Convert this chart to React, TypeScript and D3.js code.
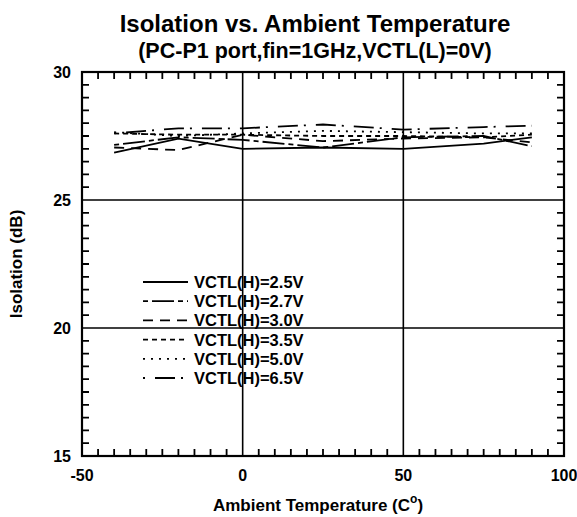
import React from "react";
import * as d3 from "d3";

// temperatures (°C) at which isolation was measured
const temps = [-40, -20, 0, 25, 50, 75, 90];

const series = [
  { name: "VCTL(H)=2.5V", dash: "", values: [26.85, 27.4, 27.0, 27.05, 27.0, 27.2, 27.45] },
  { name: "VCTL(H)=2.7V", dash: "5,4,22,4", values: [27.15, 27.45, 27.35, 27.05, 27.45, 27.5, 27.1] },
  { name: "VCTL(H)=3.0V", dash: "10,7", values: [27.05, 26.95, 27.55, 27.3, 27.4, 27.45, 27.25] },
  { name: "VCTL(H)=3.5V", dash: "5,4", values: [27.6, 27.55, 27.55, 27.5, 27.5, 27.45, 27.55] },
  { name: "VCTL(H)=5.0V", dash: "2,6", values: [27.65, 27.5, 27.6, 27.7, 27.65, 27.6, 27.6] },
  { name: "VCTL(H)=6.5V", dash: "2,10,20,6", values: [27.6, 27.8, 27.8, 27.95, 27.75, 27.85, 27.9] },
];

const xTicks = [-50, 0, 50, 100];
const yTicks = [15, 20, 25, 30];
// minor tick values between the labelled ones
const xMinor = [-45, -40, -35, -30, -25, -20, -15, -10, -5, 5, 10, 15, 20, 25, 30, 35, 40, 45,
  55, 60, 65, 70, 75, 80, 85, 90, 95];
const yMinor = [15.5, 16, 16.5, 17, 17.5, 18, 18.5, 19, 19.5, 20.5, 21, 21.5, 22, 22.5, 23, 23.5,
  24, 24.5, 25.5, 26, 26.5, 27, 27.5, 28, 28.5, 29, 29.5];

const W = 577;
const H = 517;
const m = { left: 82, right: 13, top: 72, bottom: 61 };
const font = "Arial, 'Liberation Sans', sans-serif";

const App = () => {
  const x = d3.scaleLinear().domain([-50, 100]).range([m.left, W - m.right]);
  const y = d3.scaleLinear().domain([15, 30]).range([H - m.bottom, m.top]);
  const line = d3
    .line<number>()
    .x((_, i) => x(temps[i]))
    .y((d) => y(d));

  const [x0, x1] = x.range();
  const [y0, y1] = y.range();
  const tk = 7;

  // inward minor ticks on all four sides
  let tickPath = "";
  xMinor.forEach((t) => {
    const px = x(t);
    tickPath += `M${px},${y0}V${y0 - tk}M${px},${y1}V${y1 + tk}`;
  });
  yMinor.forEach((t) => {
    const py = y(t);
    tickPath += `M${x0},${py}H${x0 + tk}M${x1},${py}H${x1 - tk}`;
  });

  return (
    <svg width={W} height={H} style={{ position: "absolute", left: 0, top: 0 }} fontFamily={font}>
      <rect width={W} height={H} fill="#fff" />
      <text x={315} y={32} textAnchor="middle" fontSize={24} fontWeight="bold">
        Isolation vs. Ambient Temperature
      </text>
      <text x={315} y={58} textAnchor="middle" fontSize={21.5} fontWeight="bold">
        (PC-P1 port,fin=1GHz,VCTL(L)=0V)
      </text>

      {/* grid */}
      {xTicks.slice(1, -1).map((t) => (
        <line key={"gx" + t} x1={x(t)} x2={x(t)} y1={y1} y2={y0} stroke="#000" strokeWidth={1.6} />
      ))}
      {yTicks.slice(1, -1).map((t) => (
        <line key={"gy" + t} x1={x0} x2={x1} y1={y(t)} y2={y(t)} stroke="#000" strokeWidth={1.6} />
      ))}

      <path d={tickPath} fill="none" stroke="#000" strokeWidth={1.8} />

      {/* data */}
      {series.map((s) => (
        <path
          key={s.name}
          d={line(s.values) || ""}
          fill="none"
          stroke="#000"
          strokeWidth={1.8}
          strokeDasharray={s.dash || undefined}
        />
      ))}

      <rect x={x0} y={y1} width={x1 - x0} height={y0 - y1} fill="none" stroke="#000" strokeWidth={2.2} />

      {/* tick labels */}
      {xTicks.map((t) => (
        <text key={"xl" + t} x={x(t)} y={y0 + 25} textAnchor="middle" fontSize={16} fontWeight="bold">
          {t}
        </text>
      ))}
      {yTicks.map((t) => (
        <text key={"yl" + t} x={x0 - 11} y={y(t) + 6} textAnchor="end" fontSize={16} fontWeight="bold">
          {t}
        </text>
      ))}

      <text x={318} y={511} textAnchor="middle" fontSize={17} fontWeight="bold">
        Ambient Temperature (C<tspan dy={-8} fontSize={12}>o</tspan>
        <tspan dy={8}>)</tspan>
      </text>
      <text
        transform={`translate(22,${(y0 + y1) / 2}) rotate(-90)`}
        textAnchor="middle"
        fontSize={17}
        fontWeight="bold"
      >
        Isolation (dB)
      </text>

      {/* legend */}
      {series.map((s, i) => {
        const ly = 282 + i * 19.2;
        return (
          <g key={"lg" + s.name}>
            <line
              x1={143}
              x2={188}
              y1={ly}
              y2={ly}
              stroke="#000"
              strokeWidth={1.8}
              strokeDasharray={s.dash || undefined}
            />
            <text x={194} y={ly + 6} fontSize={16.5} fontWeight="bold">
              {s.name}
            </text>
          </g>
        );
      })}
    </svg>
  );
};

export default App;
